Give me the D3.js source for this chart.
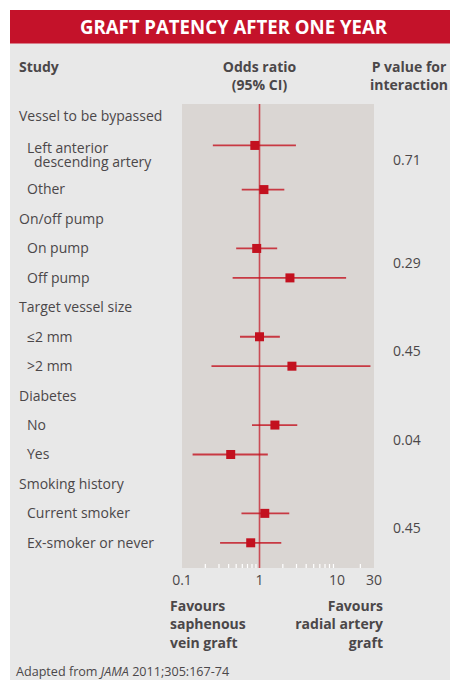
<!DOCTYPE html>
<html>
<head>
<meta charset="utf-8">
<script src="https://cdn.jsdelivr.net/npm/d3@7/dist/d3.min.js"></script>
<style>
  html, body { margin: 0; padding: 0; background: #ffffff; }
  svg { display: block; }
  text { font-family: "Open Sans", "Noto Sans", sans-serif; fill: #4b4749; }
</style>
</head>
<body>
<svg id="chart" width="450" height="680"></svg>
<script>
// Subgroup analysis: graft patency after one year
const groups = ["Vessel to be bypassed", "On/off pump", "Target vessel size", "Diabetes", "Smoking history"];
const subgroups = [
  ["Left anterior\ndescending artery", "Other"],
  ["On pump", "Off pump"],
  ["≤2 mm", ">2 mm"],
  ["No", "Yes"],
  ["Current smoker", "Ex-smoker or never"]
];
const oddsRatio = [0.87, 1.14, 0.92, 2.47, 1.0, 2.62, 1.58, 0.425, 1.17, 0.77];
const ciLower   = [0.25, 0.59, 0.50, 0.45, 0.56, 0.24, 0.80, 0.137, 0.585, 0.31];
const ciUpper   = [2.95, 2.09, 1.69, 13.1, 1.83, 27.0, 3.07, 1.28, 2.42, 1.91];
const pInteraction = ["0.71", "0.29", "0.45", "0.04", "0.45"];
const majorTicks = [0.1, 1, 10, 30];
const majorTickLabels = ["0.1", "1", "10", "30"];
const minorTicks = [0.2, 0.3, 0.4, 0.5, 0.6, 0.7, 0.8, 0.9, 2, 3, 4, 5, 6, 7, 8, 9, 20];

const red = "#c3111f";

const svg = d3.select("#chart");

// Build row list: group headers followed by their subgroups.
// A two-line label takes one and a half rows.
const rows = [];
let pos = 0;
const groupPos = [];
let k = 0;
groups.forEach((g, gi) => {
  rows.push({ label: g, header: true, pos });
  groupPos.push(pos);
  pos += 1;
  subgroups[gi].forEach(s => {
    const lines = s.split("\n");
    rows.push({ label: s, lines, header: false, pos, idx: k,
      or: oddsRatio[k], lo: ciLower[k], hi: ciUpper[k] });
    k += 1;
    pos += lines.length > 1 ? 1.5 : 1;
  });
});

// Scales
const x = d3.scaleLog().domain([0.1, 30]).range([182, 374]);
const y = d3.scaleLinear().domain([0, 14.5]).range([116, 542.8]);

// Panel backgrounds
svg.append("rect").attr("x", 10).attr("y", 10).attr("width", 440).attr("height", 670).attr("fill", "#e8e8e8");
svg.append("rect").attr("x", 10).attr("y", 10).attr("width", 440).attr("height", 33.5).attr("fill", "#c4122a");

svg.append("text")
  .attr("x", 233.5).attr("y", 27).attr("dy", "0.36em")
  .attr("text-anchor", "middle")
  .attr("font-size", 20).attr("font-weight", 700)
  .style("fill", "#ffffff")
  .attr("textLength", 307).attr("lengthAdjust", "spacingAndGlyphs")
  .text("GRAFT PATENCY AFTER ONE YEAR");

// Column headers
const hdr = svg.append("g").attr("font-size", 14).attr("font-weight", 700);
hdr.append("text").attr("x", 19).attr("y", 67).attr("dy", "0.35em").text("Study");
hdr.append("text").attr("x", x(1)).attr("y", 67).attr("dy", "0.35em").attr("text-anchor", "middle").text("Odds ratio");
hdr.append("text").attr("x", x(1)).attr("y", 85).attr("dy", "0.35em").attr("text-anchor", "middle").text("(95% CI)");
hdr.append("text").attr("x", 409).attr("y", 67).attr("dy", "0.35em").attr("text-anchor", "middle").text("P value for");
hdr.append("text").attr("x", 409).attr("y", 85).attr("dy", "0.35em").attr("text-anchor", "middle").text("interaction");

// Plot area
const [x0, x1] = x.range();
svg.append("rect").attr("x", x0).attr("y", 104).attr("width", x1 - x0).attr("height", 464).attr("fill", "#dad6d3");

// Minor ticks (white, inside the plot area)
svg.append("g").selectAll("line").data(minorTicks).join("line")
  .attr("x1", d => x(d)).attr("x2", d => x(d))
  .attr("y1", 568).attr("y2", 564)
  .attr("stroke", "#ffffff").attr("stroke-width", 1.2);

// Axis labels
svg.append("g").selectAll("text").data(majorTicks).join("text")
  .attr("x", d => x(d)).attr("y", 580).attr("dy", "0.35em")
  .attr("text-anchor", "middle").attr("font-size", 14)
  .text((d, i) => majorTickLabels[i]);

// Line of no effect
svg.append("line")
  .attr("x1", x(1)).attr("x2", x(1)).attr("y1", 104).attr("y2", 568)
  .attr("stroke", red).attr("stroke-opacity", 0.7).attr("stroke-width", 1.6);

// Row labels (multi-line labels as tspans in one text element)
const lab = svg.append("g").attr("font-size", 14);
rows.forEach(r => {
  if (r.header) {
    lab.append("text").attr("x", 19).attr("y", y(r.pos)).attr("dy", "0.35em").text(r.label);
  } else if (r.lines.length === 1) {
    lab.append("text").attr("x", 27).attr("y", y(r.pos)).attr("dy", "0.35em").text(r.label);
  } else {
    const t = lab.append("text");
    r.lines.forEach((ln, li) => {
      t.append("tspan").attr("x", li === 0 ? 27 : 34)
        .attr("y", y(r.pos) + 7.3 + li * 14.7).text(ln);
    });
  }
});

// Confidence intervals and point estimates
const est = rows.filter(r => !r.header);
svg.append("g").selectAll("line").data(est).join("line")
  .attr("x1", d => x(d.lo)).attr("x2", d => x(d.hi))
  .attr("y1", d => y(d.pos)).attr("y2", d => y(d.pos))
  .attr("stroke", red).attr("stroke-opacity", 0.8).attr("stroke-width", 1.8);

const sq = 9;
svg.append("g").selectAll("rect").data(est).join("rect")
  .attr("x", d => x(d.or) - sq / 2).attr("y", d => y(d.pos) - sq / 2)
  .attr("width", sq).attr("height", sq).attr("fill", red);

// P values for interaction
svg.append("g").selectAll("text").data(pInteraction).join("text")
  .attr("x", 393).attr("y", (d, i) => y(groupPos[i] + 1.5)).attr("dy", "0.35em")
  .attr("font-size", 14).text(d => d);

// Direction notes
const fav = svg.append("g").attr("font-size", 14).attr("font-weight", 700);
["Favours", "saphenous", "vein graft"].forEach((t, i) =>
  fav.append("text").attr("x", 170).attr("y", 606 + i * 18.3).attr("dy", "0.35em").text(t));
["Favours", "radial artery", "graft"].forEach((t, i) =>
  fav.append("text").attr("x", 383).attr("y", 606 + i * 18.3).attr("dy", "0.35em").attr("text-anchor", "end").text(t));

// Source
const src = svg.append("text").attr("x", 16).attr("y", 672).attr("dy", "0.35em").attr("font-size", 12.6);
src.append("tspan").text("Adapted from ");
src.append("tspan").attr("font-style", "italic").text("JAMA");
src.append("tspan").text(" 2011;305:167-74");
</script>
</body>
</html>
